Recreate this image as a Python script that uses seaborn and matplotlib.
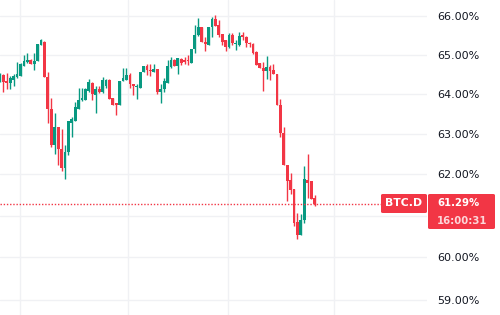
import matplotlib
matplotlib.use("Agg")
import matplotlib.pyplot as plt
import seaborn as sns
import pandas as pd
import numpy as np
from matplotlib.patches import FancyBboxPatch
from matplotlib.ticker import FixedLocator, NullLocator

# ---- data (daily candles, % dominance) ----
day_index = list(range(-6, 87))
opens = [64.36, 64.49, 64.34, 64.29, 64.36, 64.44,
         64.46, 64.71, 64.82, 64.87, 64.77, 64.84, 65.25, 65.33, 64.44, 63.63,
         62.73, 63.16, 62.63, 62.16, 62.56, 63.28, 63.33, 63.63, 63.86, 63.86,
         64.08, 64.29, 63.98, 64.13, 64.06, 64.19, 64.36, 63.91, 63.76, 63.71,
         64.34, 64.36, 64.49, 64.26, 64.17, 64.16, 64.56, 64.71, 64.61, 64.56,
         64.64, 64.06, 64.13, 64.29, 64.69, 64.87, 64.71, 64.89, 64.87, 64.87,
         64.79, 65.15, 65.50, 65.72, 65.33, 65.25, 65.72, 65.92, 65.77, 65.53,
         65.38, 65.20, 65.50, 65.27, 65.25, 65.50, 65.46, 65.30, 65.28, 65.07,
         64.79, 64.66, 64.59, 64.69, 64.61, 64.51, 63.73, 63.01, 62.23, 61.86,
         61.64, 60.84, 60.53, 60.89, 61.86, 61.84, 61.42]
highs = [64.54, 64.51, 64.54, 64.46, 64.51, 64.82,
         64.79, 64.99, 65.04, 64.89, 65.04, 65.28, 65.41, 65.36, 64.56, 63.91,
         63.53, 63.16, 63.13, 62.73, 63.31, 63.43, 63.81, 64.16, 64.16, 64.16,
         64.39, 64.31, 64.19, 64.19, 64.44, 64.39, 64.39, 63.91, 63.78, 64.34,
         64.66, 64.66, 64.54, 64.26, 64.24, 64.56, 64.71, 64.77, 64.77, 64.77,
         64.64, 64.24, 64.41, 64.87, 64.94, 64.89, 64.92, 64.92, 64.94, 64.99,
         65.15, 65.77, 65.95, 65.72, 65.46, 65.72, 65.97, 66.03, 65.90, 65.53,
         65.38, 65.56, 65.56, 65.38, 65.59, 65.59, 65.48, 65.33, 65.30, 65.10,
         64.79, 64.82, 64.97, 64.74, 64.77, 64.51, 63.88, 63.18, 62.23, 62.03,
         61.64, 61.06, 61.03, 62.21, 62.51, 61.84, 61.50]
lows = [64.31, 64.06, 64.13, 64.13, 64.19, 64.41,
        64.46, 64.71, 64.79, 64.77, 64.61, 64.84, 65.25, 64.44, 63.28, 62.68,
        62.51, 62.23, 62.08, 61.89, 62.48, 62.91, 63.31, 63.61, 63.83, 63.86,
        64.06, 63.86, 63.51, 64.03, 64.03, 64.16, 63.88, 63.73, 63.48, 63.71,
        64.34, 64.36, 64.16, 63.98, 63.88, 64.16, 64.56, 64.49, 64.46, 64.56,
        64.01, 63.78, 64.06, 64.29, 64.66, 64.71, 64.51, 64.74, 64.77, 64.74,
        64.79, 65.04, 65.48, 65.33, 65.10, 65.25, 65.46, 65.74, 65.46, 65.25,
        65.10, 65.18, 65.25, 65.12, 65.23, 65.38, 65.20, 65.20, 65.02, 64.74,
        64.66, 64.08, 64.39, 64.36, 64.51, 63.73, 62.93, 62.23, 61.35, 61.52,
        60.75, 60.44, 60.53, 60.82, 61.42, 61.40, 61.22]
closes = [64.51, 64.31, 64.29, 64.41, 64.46, 64.51,
          64.77, 64.84, 64.87, 64.77, 64.84, 65.28, 65.38, 64.44, 63.63, 62.73,
          63.16, 62.63, 62.16, 62.56, 63.31, 63.36, 63.66, 63.86, 63.91, 64.13,
          64.31, 64.01, 64.13, 64.06, 64.36, 64.36, 63.88, 63.73, 63.71, 64.34,
          64.41, 64.49, 64.26, 64.19, 64.19, 64.56, 64.71, 64.61, 64.59, 64.64,
          64.06, 64.13, 64.34, 64.71, 64.87, 64.71, 64.92, 64.79, 64.82, 64.84,
          65.15, 65.50, 65.72, 65.33, 65.28, 65.72, 65.92, 65.74, 65.50, 65.33,
          65.20, 65.50, 65.30, 65.29, 65.48, 65.46, 65.30, 65.28, 65.04, 64.74,
          64.66, 64.59, 64.69, 64.59, 64.51, 63.73, 63.03, 62.23, 61.84, 61.62,
          60.82, 60.53, 60.89, 61.89, 61.79, 61.40, 61.29]

ytick_values = [59, 60, 61, 62, 63, 64, 65, 66]
hidden_tick = 61  # covered by the last-price badge in the reference
month_marks = [-0.15, 31.4, 60.6, 91.6]
symbol = "BTC.D"
last_price = 61.29
countdown = "16:00:31"

UP = "#089981"
DOWN = "#f23645"

sns.set_theme(style="white")
plt.rcParams['font.family'] = ['DejaVu Sans']

df = pd.DataFrame({"day": day_index, "open": opens, "high": highs,
                   "low": lows, "close": closes})
df["up"] = df["close"] >= df["open"]
df["color"] = np.where(df["up"], UP, DOWN)
df["body_lo"] = df[["open", "close"]].min(axis=1)
df["body_h"] = (df["close"] - df["open"]).abs().clip(lower=0.015)

fig = plt.figure(figsize=(5, 3.15), dpi=100)
ax = fig.add_axes([0, 0, 427 / 500, 1])

ax.set_yscale("log")
ax.vlines(df["day"], df["low"], df["high"], colors=df["color"], linewidth=1.0, zorder=3)
ax.bar(df["day"], df["body_h"], bottom=df["body_lo"], width=0.82,
       color=df["color"], linewidth=0, zorder=4)

ax.axhline(last_price, color=DOWN, linestyle=(0, (1, 1.3)), linewidth=1.0, zorder=5)

ax.set_ylim(58.65, 66.42)
ax.set_xlim(-6.0, 118.9)
ax.yaxis.set_major_locator(FixedLocator(ytick_values))
ax.yaxis.set_minor_locator(NullLocator())
ax.set_yticklabels(["" if v == hidden_tick else f"{v:.2f}%" for v in ytick_values])
ax.yaxis.tick_right()
ax.tick_params(axis="y", length=0, pad=7.5, labelsize=8, labelcolor="#131722")
ax.set_xticks(month_marks)
ax.set_xticklabels([])
ax.tick_params(axis="x", length=0)
ax.grid(True, color="#f0f1f4", linewidth=1.0, zorder=0)
for s in ax.spines.values():
    s.set_visible(False)

W, H = 500, 315
def fbox(x0, y0, x1, y1):
    p = FancyBboxPatch((x0 / W, 1 - y1 / H), (x1 - x0) / W, (y1 - y0) / H,
                       boxstyle="round,pad=0,rounding_size=0.004",
                       transform=fig.transFigure, facecolor=DOWN,
                       edgecolor="none", zorder=10)
    fig.add_artist(p)

fbox(381, 194, 427, 213)
fbox(428, 194, 495, 229)
fig.text(404 / W, 1 - 203.5 / H, symbol, color="white", fontsize=7.8,
         fontweight="bold", ha="center", va="center", zorder=11)
fig.text(437 / W, 1 - 202.5 / H, f"{last_price:.2f}%", color="white", fontsize=7.3,
         fontweight="bold", ha="left", va="center", zorder=11)
fig.text(437 / W, 1 - 220.5 / H, countdown, color="white", alpha=0.8, fontsize=7.3,
         fontweight="bold", ha="left", va="center", zorder=11)

fig.savefig("out.png", dpi=100)
